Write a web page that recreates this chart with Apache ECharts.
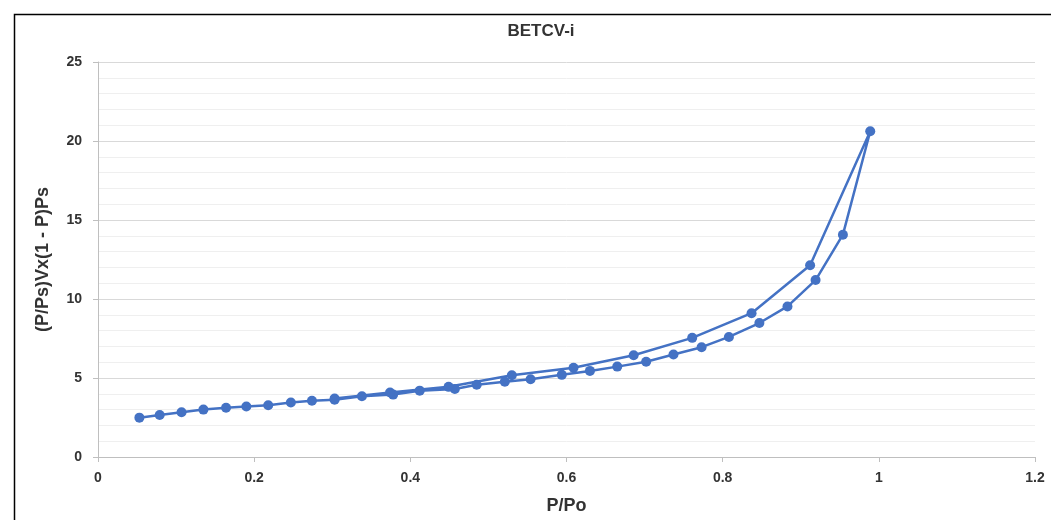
<!DOCTYPE html>
<html>
<head>
<meta charset="utf-8">
<script src="https://cdn.jsdelivr.net/npm/echarts@6/dist/echarts.min.js"></script>
<style>
html,body{margin:0;padding:0;background:#fff;overflow:hidden;}
#c{width:1051px;height:520px;}
</style>
</head>
<body>
<div id="c"></div>
<script>
var title = "BETCV-i";
var xName = "P/Po";
var yName = "(P/Ps)Vx(1 - P)Ps";
var adsorptionX = [0.053,0.079,0.107,0.135,0.164,0.190,0.218,0.247,0.274,0.303,0.338,0.378,0.412,0.457,0.485,0.521,0.554,0.594,0.630,0.665,0.702,0.737,0.773,0.808,0.847,0.883,0.919,0.954,0.989];
var adsorptionY = [2.49,2.66,2.83,3.00,3.12,3.20,3.28,3.45,3.56,3.62,3.84,3.95,4.20,4.30,4.57,4.76,4.92,5.20,5.45,5.72,6.03,6.49,6.95,7.60,8.48,9.53,11.2,14.07,20.62];
var desorptionX = [0.912,0.837,0.761,0.686,0.609,0.530,0.449,0.374,0.303];
var desorptionY = [12.14,9.10,7.54,6.44,5.65,5.17,4.44,4.08,3.70];

var pts = [];
for (var i = 0; i < adsorptionX.length; i++) pts.push([adsorptionX[i], adsorptionY[i]]);
for (var j = 0; j < desorptionX.length; j++) pts.push([desorptionX[j], desorptionY[j]]);

var font = "'Liberation Sans',sans-serif";
var chart = echarts.init(document.getElementById('c'), null, {renderer:'canvas'});
chart.setOption({
  backgroundColor:'#fff',
  animation:false,
  title:{text:title,left:536,top:18,textAlign:'center',
    textStyle:{fontFamily:font,fontSize:17,fontWeight:'bold',color:'#333'}},
  graphic:[{type:'rect',left:12,top:12,shape:{width:1100,height:600},
    style:{fill:null,stroke:'#000',lineWidth:1.5},silent:true,z:-1}],
  grid:{left:98,right:16,top:62,bottom:60,containLabel:false},
  xAxis:{type:'value',min:0,max:1.2,interval:0.2,
    name:xName,nameLocation:'middle',nameGap:40,
    nameTextStyle:{fontFamily:font,fontSize:18,fontWeight:'bold',color:'#333'},
    axisLine:{show:true,onZero:false,lineStyle:{color:'#bfbfbf',width:1}},
    axisTick:{show:true,inside:false,length:5,lineStyle:{color:'#bfbfbf'}},
    axisLabel:{fontFamily:font,fontSize:14,fontWeight:'bold',color:'#333',margin:14,
      formatter:function(v){return String(Math.round(v*10)/10);}},
    splitLine:{show:false}},
  yAxis:{type:'value',min:0,max:25,interval:5,
    name:yName,nameLocation:'middle',nameGap:46,nameRotate:90,
    nameTextStyle:{fontFamily:font,fontSize:18,fontWeight:'bold',color:'#333'},
    axisLine:{show:true,lineStyle:{color:'#bfbfbf',width:1}},
    axisTick:{show:true,inside:false,length:5,lineStyle:{color:'#bfbfbf'}},
    axisLabel:{fontFamily:font,fontSize:14,fontWeight:'bold',color:'#333',margin:16},
    splitLine:{show:true,lineStyle:{color:'#d9d9d9',width:1}},
    minorTick:{show:false,splitNumber:5},
    minorSplitLine:{show:true,lineStyle:{color:'#efefef',width:1}}},
  series:[{type:'line',data:pts,color:'#4472C4',
    lineStyle:{color:'#4472C4',width:2.5},
    symbol:'circle',symbolSize:10,showSymbol:true,
    itemStyle:{color:'#4472C4'}}]
});
</script>
</body>
</html>
